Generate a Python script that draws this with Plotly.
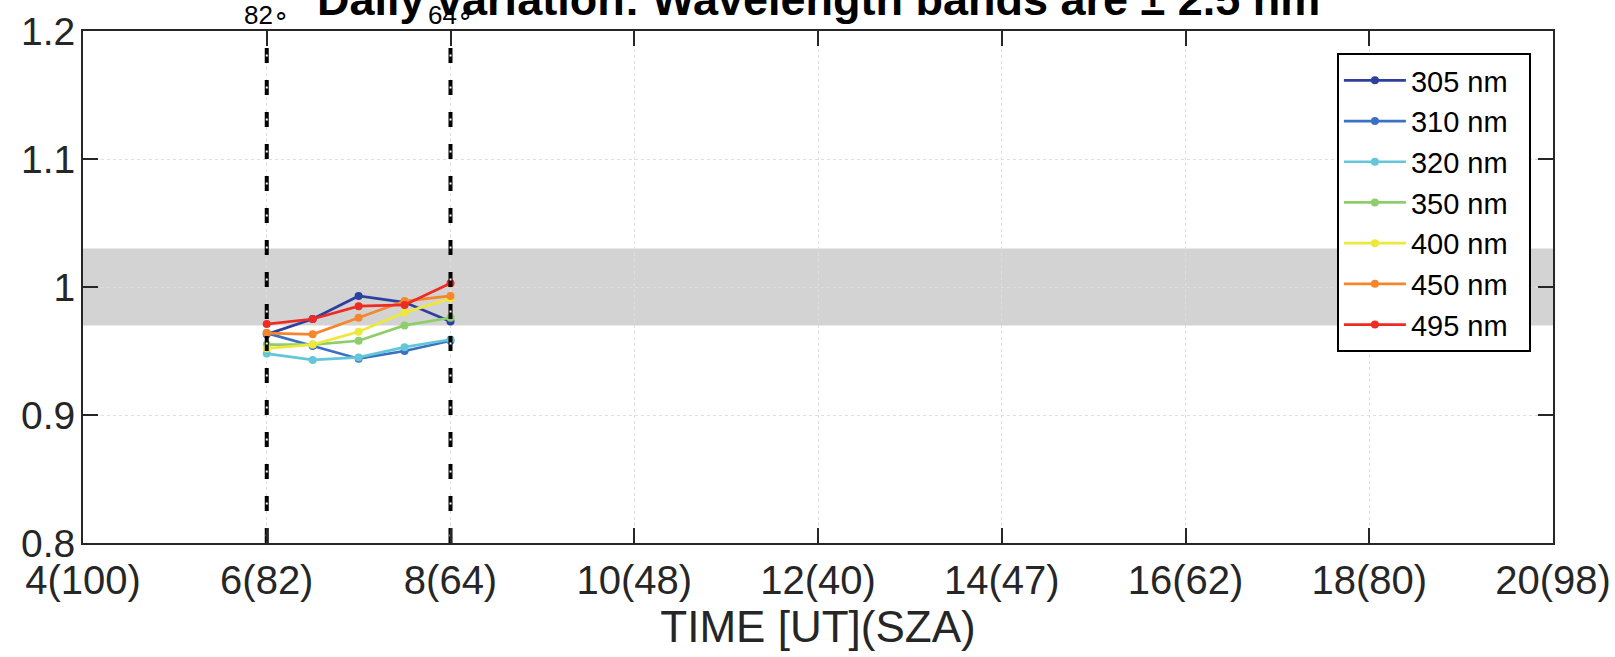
import plotly.graph_objects as go

# ---- data ----
x_time = [6, 6.5, 7, 7.5, 8]
wavelengths = ["305 nm", "310 nm", "320 nm", "350 nm", "400 nm", "450 nm", "495 nm"]
r305 = [0.963, 0.975, 0.993, 0.988, 0.973]
r310 = [0.964, 0.954, 0.944, 0.950, 0.958]
r320 = [0.948, 0.943, 0.945, 0.953, 0.959]
r350 = [0.955, 0.955, 0.958, 0.970, 0.976]
r400 = [0.952, 0.955, 0.965, 0.980, 0.991]
r450 = [0.964, 0.963, 0.976, 0.989, 0.993]
r495 = [0.971, 0.975, 0.985, 0.986, 1.003]
series = [r305, r310, r320, r350, r400, r450, r495]
colors = ["#2e3f9e", "#3b70c2", "#64c6d9", "#8ecd6b", "#ede83b", "#f5862b", "#ee2a25"]

sza_times = [6, 8]
sza_labels = ["82∘", "64∘"]

band_lo, band_hi = 0.97, 1.03
x_range = [4, 20]
y_range = [0.8, 1.2]
x_ticks = [4, 6, 8, 10, 12, 14, 16, 18, 20]
x_ticklabels = ["4(100)", "6(82)", "8(64)", "10(48)", "12(40)", "14(47)", "16(62)", "18(80)", "20(98)"]
y_ticks = [0.8, 0.9, 1.0, 1.1, 1.2]
y_ticklabels = ["0.8", "0.9", "1", "1.1", "1.2"]

FONT = "Liberation Sans, Arial, Helvetica, sans-serif"
AX = "#262626"
PAD = "\u00a0\u00a0"  # right padding inside the legend box

fig = go.Figure()

for name, ys, c in zip(wavelengths, series, colors):
    fig.add_trace(go.Scatter(
        x=x_time, y=ys, name=name + PAD, mode="lines+markers",
        line=dict(color=c, width=2.7),
        marker=dict(color=c, size=8),
    ))

# vertical SZA marker lines (black dashes with white centre dots)
for t in sza_times:
    fig.add_trace(go.Scatter(
        x=[t, t], y=[y_range[1], y_range[0]], mode="lines", showlegend=False,
        hoverinfo="skip",
        line=dict(color="black", width=4, dash="0px,17px,15px,0px"),
    ))
    fig.add_trace(go.Scatter(
        x=[t, t], y=[y_range[1], y_range[0]], mode="lines", showlegend=False,
        hoverinfo="skip",
        line=dict(color="white", width=2, dash="0px,23.5px,2px,6.5px"),
    ))

# grey band
fig.add_shape(type="rect", xref="x", yref="y", x0=x_range[0], x1=x_range[1],
              y0=band_lo, y1=band_hi, fillcolor="#d3d3d3", line=dict(width=0),
              layer="below")

annotations = []
for t, lab in zip(sza_times, sza_labels):
    annotations.append(dict(x=t, y=1, xref="x", yref="paper", text=lab,
                            showarrow=False, yanchor="bottom", xanchor="center",
                            yshift=-1,
                            font=dict(family=FONT, size=26, color="black")))
annotations.append(dict(x=0.5, y=1.062, xref="paper", yref="paper",
                        text="<b>Daily variation: Wavelength bands are ± 2.5 nm</b>",
                        showarrow=False, yanchor="middle", xanchor="center",
                        font=dict(family=FONT, size=45, color="black")))

fig.update_layout(
    width=1615, height=657,
    margin=dict(l=83, r=62, t=31, b=114),
    paper_bgcolor="white", plot_bgcolor="white",
    font=dict(family=FONT, color=AX),
    showlegend=True,
    legend=dict(x=0.853, y=0.957, xanchor="left", yanchor="top",
                bgcolor="white", bordercolor="black", borderwidth=2,
                font=dict(family=FONT, size=29, color="black"),
                itemwidth=62, tracegroupgap=0),
    annotations=annotations,
    xaxis=dict(range=x_range, tickvals=x_ticks, ticktext=x_ticklabels,
               automargin=False,
               showline=True, linecolor=AX, linewidth=2, mirror="ticks",
               ticks="inside", ticklen=15, tickwidth=1.5, tickcolor=AX,
               showgrid=True, gridcolor="#dedede", griddash="dot", gridwidth=1,
               zeroline=False, tickfont=dict(family=FONT, size=40, color=AX),
               ticklabelstandoff=1,
               title=dict(text="TIME [UT](SZA)", font=dict(family=FONT, size=44, color=AX),
                          standoff=7)),
    yaxis=dict(range=y_range, tickvals=y_ticks, ticktext=y_ticklabels,
               automargin=False,
               showline=True, linecolor=AX, linewidth=2, mirror="ticks",
               ticks="inside", ticklen=15, tickwidth=1.5, tickcolor=AX,
               showgrid=True, gridcolor="#dedede", griddash="dot", gridwidth=1,
               zeroline=False, tickfont=dict(family=FONT, size=39, color=AX),
               ticklabelstandoff=-2),
)

fig.write_html("out.html")
